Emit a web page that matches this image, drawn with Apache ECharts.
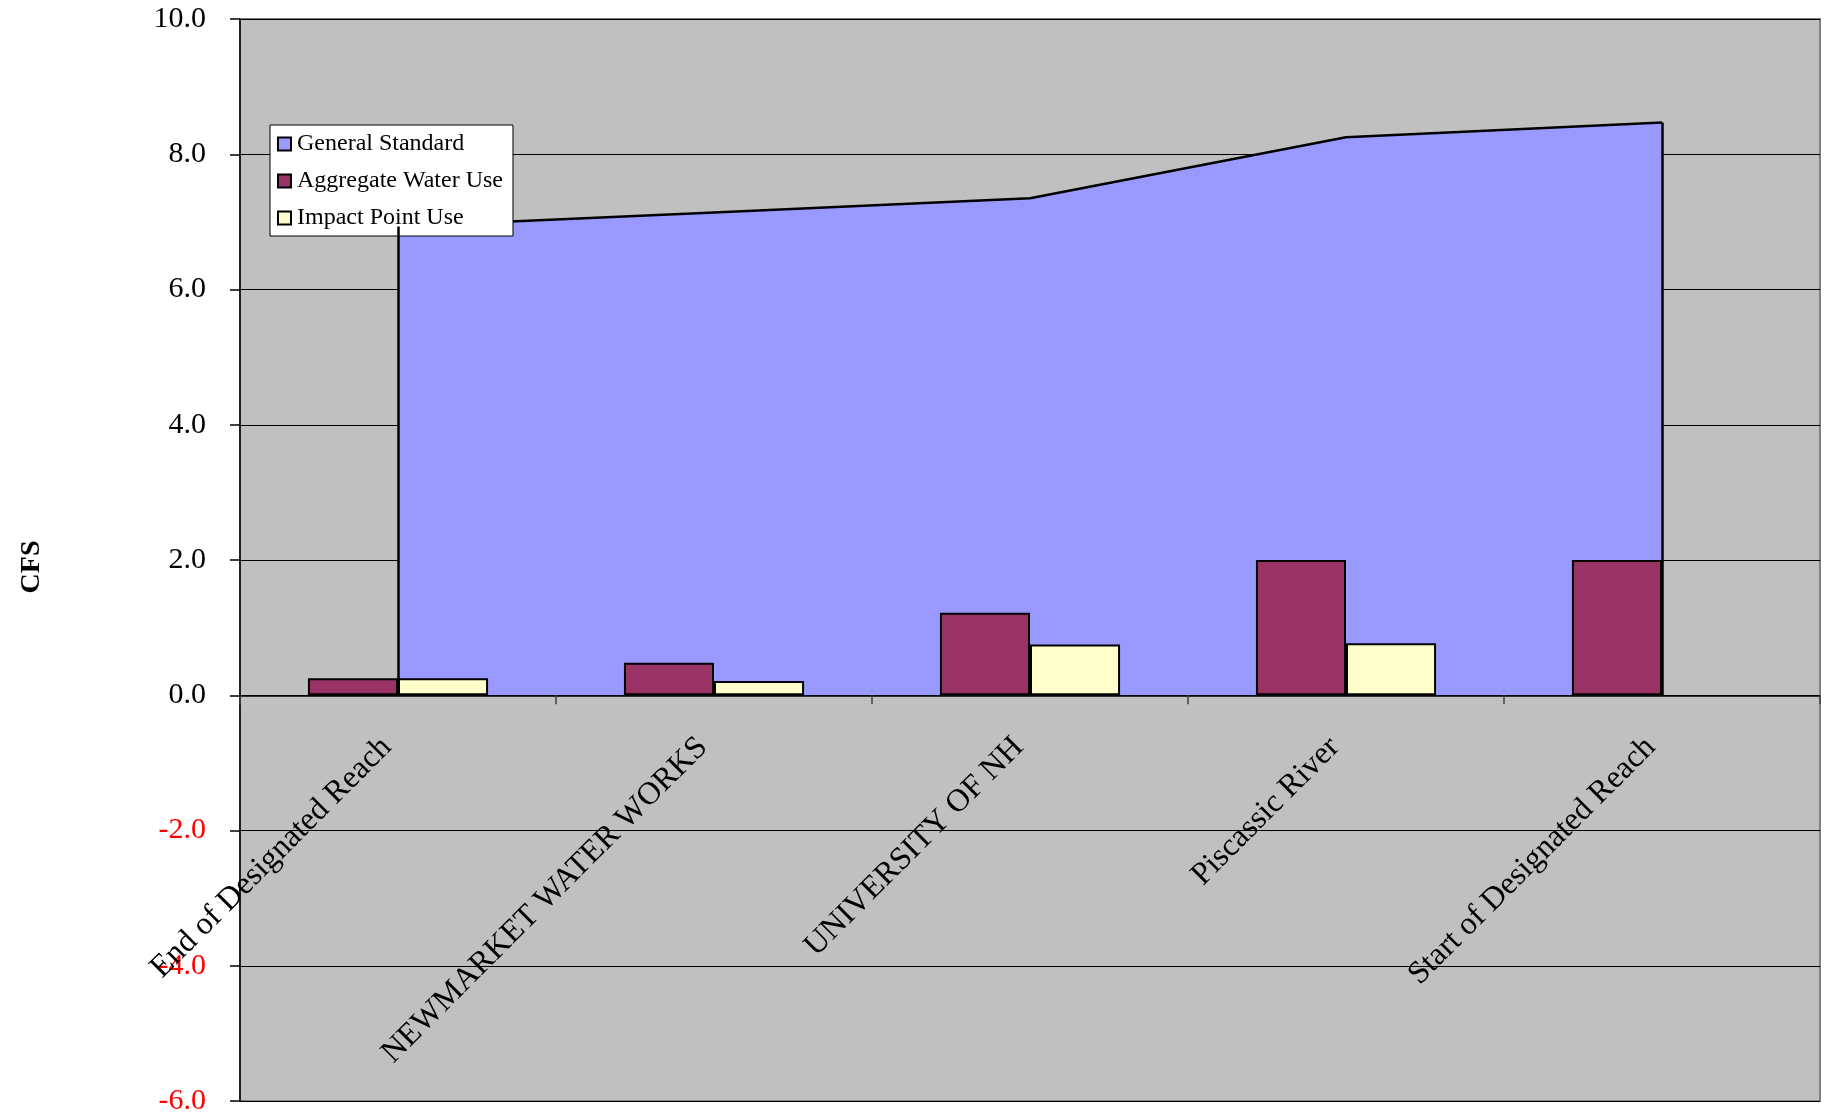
<!DOCTYPE html>
<html>
<head>
<meta charset="utf-8">
<script src="https://cdn.jsdelivr.net/npm/echarts@6/dist/echarts.min.js"></script>
<style>
html,body{margin:0;padding:0;background:#fff;}
#chart{width:1832px;height:1120px;}
</style>
</head>
<body>
<div id="chart"></div>
<script>
var categories = ['End of Designated Reach', 'NEWMARKET WATER WORKS', 'UNIVERSITY OF NH', 'Piscassic River', 'Start of Designated Reach'];
var generalStandard = [6.93, 7.14, 7.35, 8.25, 8.47];
var aggregateWaterUse = [0.25, 0.48, 1.22, 2.0, 2.0];
var impactPointUse = [0.25, 0.21, 0.75, 0.77, null];
var yTicks = { min: -6, max: 10, interval: 2 };

var FONT = '"Liberation Serif", "Times New Roman", serif';
var W = 1832, H = 1120;
var G = { left: 240, right: 12, top: 19, bottom: 19 };
var plotH = H - G.top - G.bottom;
var zeroOffset = -plotH * (0 - yTicks.min) / (yTicks.max - yTicks.min);

var chart = echarts.init(document.getElementById('chart'));
var last = categories.length - 1;
chart.setOption({
  backgroundColor: '#ffffff',
  animation: false,
  grid: {
    left: G.left, right: G.right, top: G.top, bottom: G.bottom,
    containLabel: false,
    outerBoundsMode: 'none',
    show: true, backgroundColor: '#C0C0C0', borderColor: '#808080', borderWidth: 2
  },
  legend: {
    orient: 'vertical',
    left: 270, top: 125,
    width: 230,
    padding: [7, 10, 6, 7],
    itemGap: 13,
    itemWidth: 13, itemHeight: 13,
    backgroundColor: '#ffffff',
    borderColor: '#000000', borderWidth: 1,
    borderRadius: 0,
    icon: 'rect',
    textStyle: { fontFamily: FONT, fontSize: 24, color: '#000', lineHeight: 24, padding: [0, 0, 0, 1] },
    data: [
      { name: 'General Standard', itemStyle: { color: '#9999FF', borderColor: '#000', borderWidth: 2 } },
      { name: 'Aggregate Water Use', itemStyle: { color: '#993366', borderColor: '#000', borderWidth: 2 } },
      { name: 'Impact Point Use', itemStyle: { color: '#FFFFCC', borderColor: '#000', borderWidth: 2 } }
    ]
  },
  xAxis: {
    type: 'category',
    data: categories,
    boundaryGap: true,
    position: 'bottom',
    offset: zeroOffset,
    z: 10,
    axisLine: { onZero: false, lineStyle: { color: '#000', width: 1.5 } },
    axisTick: { show: true, length: 9, lineStyle: { color: '#404040', width: 1.5 } },
    axisLabel: {
      show: true,
      rotate: 45, interval: 0, margin: 36,
      padding: [0, 16, 0, 0],
      fontFamily: FONT, fontSize: 32, color: '#000'
    },
    splitLine: { show: false }
  },
  yAxis: {
    type: 'value',
    min: yTicks.min, max: yTicks.max, interval: yTicks.interval,
    name: 'CFS',
    nameLocation: 'middle',
    nameRotate: 90,
    nameGap: 194,
    nameTextStyle: { fontFamily: FONT, fontSize: 28, fontWeight: 'bold', color: '#000', padding: [0, 14, 0, 0] },
    axisLine: { show: true, lineStyle: { color: '#000', width: 1.5 } },
    axisTick: { show: true, length: 10, lineStyle: { color: '#000', width: 1.5 } },
    axisLabel: {
      margin: 34,
      fontFamily: FONT, fontSize: 30,
      formatter: function (v) { return v.toFixed(1); },
      color: function (v) { return Number(v) < 0 ? '#FF0000' : '#000000'; }
    },
    splitLine: { show: true, lineStyle: { color: '#000', width: 1 } }
  },
  series: [
    {
      name: 'General Standard',
      type: 'line',
      data: generalStandard,
      symbol: 'none',
      z: 1,
      lineStyle: { color: '#000', width: 2.5 },
      itemStyle: { color: '#9999FF' },
      areaStyle: { color: '#9999FF', opacity: 1 },
      markLine: {
        silent: true,
        symbol: ['none', 'none'],
        label: { show: false },
        lineStyle: { color: '#000', width: 2.5, type: 'solid' },
        data: [
          [{ coord: [categories[0], 0] }, { coord: [categories[0], generalStandard[0]] }],
          [{ coord: [categories[last], 0] }, { coord: [categories[last], generalStandard[last]] }]
        ]
      }
    },
    {
      name: 'Aggregate Water Use',
      type: 'bar',
      data: aggregateWaterUse,
      z: 3,
      barGap: '0%',
      barCategoryGap: '43%',
      itemStyle: { color: '#993366', borderColor: '#000', borderWidth: 2 }
    },
    {
      name: 'Impact Point Use',
      type: 'bar',
      data: impactPointUse,
      z: 3,
      itemStyle: { color: '#FFFFCC', borderColor: '#000', borderWidth: 2 }
    }
  ]
});
</script>
</body>
</html>
